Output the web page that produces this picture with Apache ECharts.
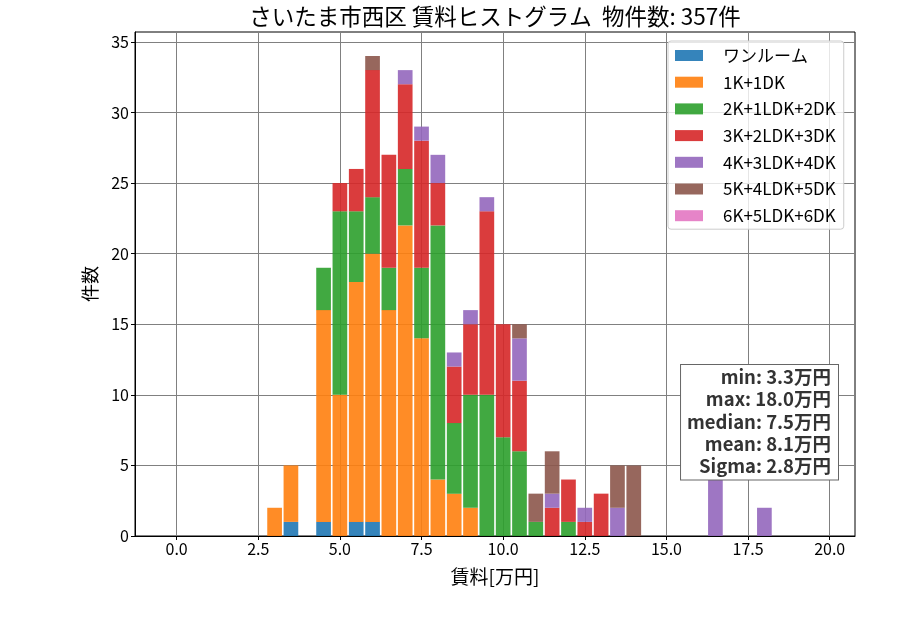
<!DOCTYPE html>
<html>
<head>
<meta charset="utf-8">
<script src="https://cdn.jsdelivr.net/npm/echarts@6/dist/echarts.min.js"></script>
<style>html,body{margin:0;padding:0;background:#fff}#c{width:900px;height:630px}</style>
</head>
<body>
<div id="c"></div>
<script>
const bins = [3.0,3.5,4.0,4.5,5.0,5.5,6.0,6.5,7.0,7.5,8.0,8.5,9.0,9.5,10.0,10.5,11.0,11.5,12.0,12.5,13.0,13.5,14.0,14.5,15.0,15.5,16.0,16.5,17.0,17.5,18.0];
const seriesNames = ['ワンルーム','1K+1DK','2K+1LDK+2DK','3K+2LDK+3DK','4K+3LDK+4DK','5K+4LDK+5DK','6K+5LDK+6DK'];
const oneRoom = [0,1,0,1,0,1,1,0,0,0, 0,0,0,0,0,0,0,0,0,0, 0,0,0,0,0,0,0,0,0,0, 0];
const k1      = [2,4,0,15,10,17,19,16,22,14, 4,3,2,0,0,0,0,0,0,0, 0,0,0,0,0,0,0,0,0,0, 0];
const k2      = [0,0,0,3,13,5,4,3,4,5, 18,5,8,10,7,6,1,0,1,0, 0,0,0,0,0,0,0,0,0,0, 0];
const k3      = [0,0,0,0,2,3,9,8,6,9, 3,4,5,13,8,5,0,2,3,1, 3,0,0,0,0,0,0,0,0,0, 0];
const k4      = [0,0,0,0,0,0,0,0,1,1, 2,1,1,1,0,3,0,1,0,1, 0,2,0,0,0,0,0,4,0,0, 2];
const k5      = [0,0,0,0,0,0,1,0,0,0, 0,0,0,0,0,1,2,3,0,0, 0,3,5,0,0,0,0,0,0,0, 0];
const k6      = [0,0,0,0,0,0,0,0,0,0, 0,0,0,0,0,0,0,0,0,0, 0,0,0,0,0,0,0,0,0,0, 0];
const colors = ['#1f77b4','#ff7f0e','#2ca02c','#d62728','#9467bd','#8c564b','#e377c2'];
const xTicks = [0,2.5,5,7.5,10,12.5,15,17.5,20];
const yTicks = [0,5,10,15,20,25,30,35];
const statLabels = ['min','max','median','mean','Sigma'];
const statValues = ['3.3','18.0','7.5','8.1','2.8'];
const titleText = 'さいたま市西区 賃料ヒストグラム  物件数: 357件';

const FONT = '"Noto Sans CJK JP", "Noto Sans", sans-serif';
const allData = [oneRoom,k1,k2,k3,k4,k5,k6];

const chart = echarts.init(document.getElementById('c'), null, {renderer:'canvas'});
const option = {
  animation: false,
  backgroundColor: '#fff',
  textStyle: {fontFamily: FONT},
  grid: {left: 135, right: 45, top: 32, bottom: 94, show: true, borderColor: '#000', borderWidth: 1, backgroundColor: 'transparent'},
  legend: {
    orient: 'vertical', left: 668, top: 41,
    padding: [6, 8, 5, 7],
    itemWidth: 28, itemHeight: 11, itemGap: 9.7,
    icon: 'rect',
    backgroundColor: 'rgba(255,255,255,0.8)', borderColor: '#ccc', borderWidth: 1, borderRadius: 3,
    textStyle: {fontFamily: FONT, fontSize: 17, color: '#000', lineHeight: 17, padding: [0,0,0,15]},
    data: seriesNames
  },
  xAxis: {
    type: 'value', min: -1.275, max: 20.775,
    name: '賃料[万円]', nameLocation: 'middle', nameGap: 31,
    nameTextStyle: {fontFamily: FONT, fontSize: 19, color: '#000'},
    axisLine: {show: true, onZero: false, lineStyle: {color: '#000', width: 1}},
    axisTick: {show: true, inside: false, length: 4, customValues: xTicks, lineStyle: {color: '#000'}},
    axisLabel: {customValues: xTicks, fontFamily: FONT, fontSize: 16, color: '#000', margin: 5,
      formatter: v => v.toFixed(1)},
    splitLine: {show: true, lineStyle: {color: '#808080', width: 1}}
  },
  yAxis: {
    type: 'value', min: 0, max: 35.7,
    name: '件数', nameLocation: 'middle', nameGap: 36,
    nameTextStyle: {fontFamily: FONT, fontSize: 18, color: '#000'},
    axisLine: {show: true, onZero: false, lineStyle: {color: '#000', width: 1}},
    axisTick: {show: true, inside: false, length: 4, customValues: yTicks, lineStyle: {color: '#000'}},
    axisLabel: {customValues: yTicks, fontFamily: FONT, fontSize: 16, color: '#000', margin: 6},
    splitLine: {show: true, lineStyle: {color: '#808080', width: 1}}
  },
  series: seriesNames.map((name, si) => ({
    name: name, type: 'bar', stack: 'all', barWidth: '90%',
    itemStyle: {color: colors[si], opacity: 0.9},
    emphasis: {disabled: true},
    encode: {x: 1, y: 0},
    data: bins.map((b, i) => [allData[si][i], b])
  })),
  graphic: [{
    type: 'text', x: 495, y: 16, z: 100,
    style: {
      text: titleText, font: '22.5px ' + FONT, fill: '#000', align: 'center', verticalAlign: 'middle'
    }
  }, {
    type: 'text', x: 838, y: 365, z: 100,
    style: {
      text: statLabels.map((l, i) => l + ': ' + statValues[i] + '万円').join('\n'),
      font: 'bold 18.5px ' + FONT, fill: '#333', align: 'right', verticalAlign: 'top',
      lineHeight: 22.3, backgroundColor: '#fff', borderColor: '#666', borderWidth: 1,
      padding: [1, 7, 2, 6]
    }
  }]
};
chart.setOption(option);
</script>
</body>
</html>
